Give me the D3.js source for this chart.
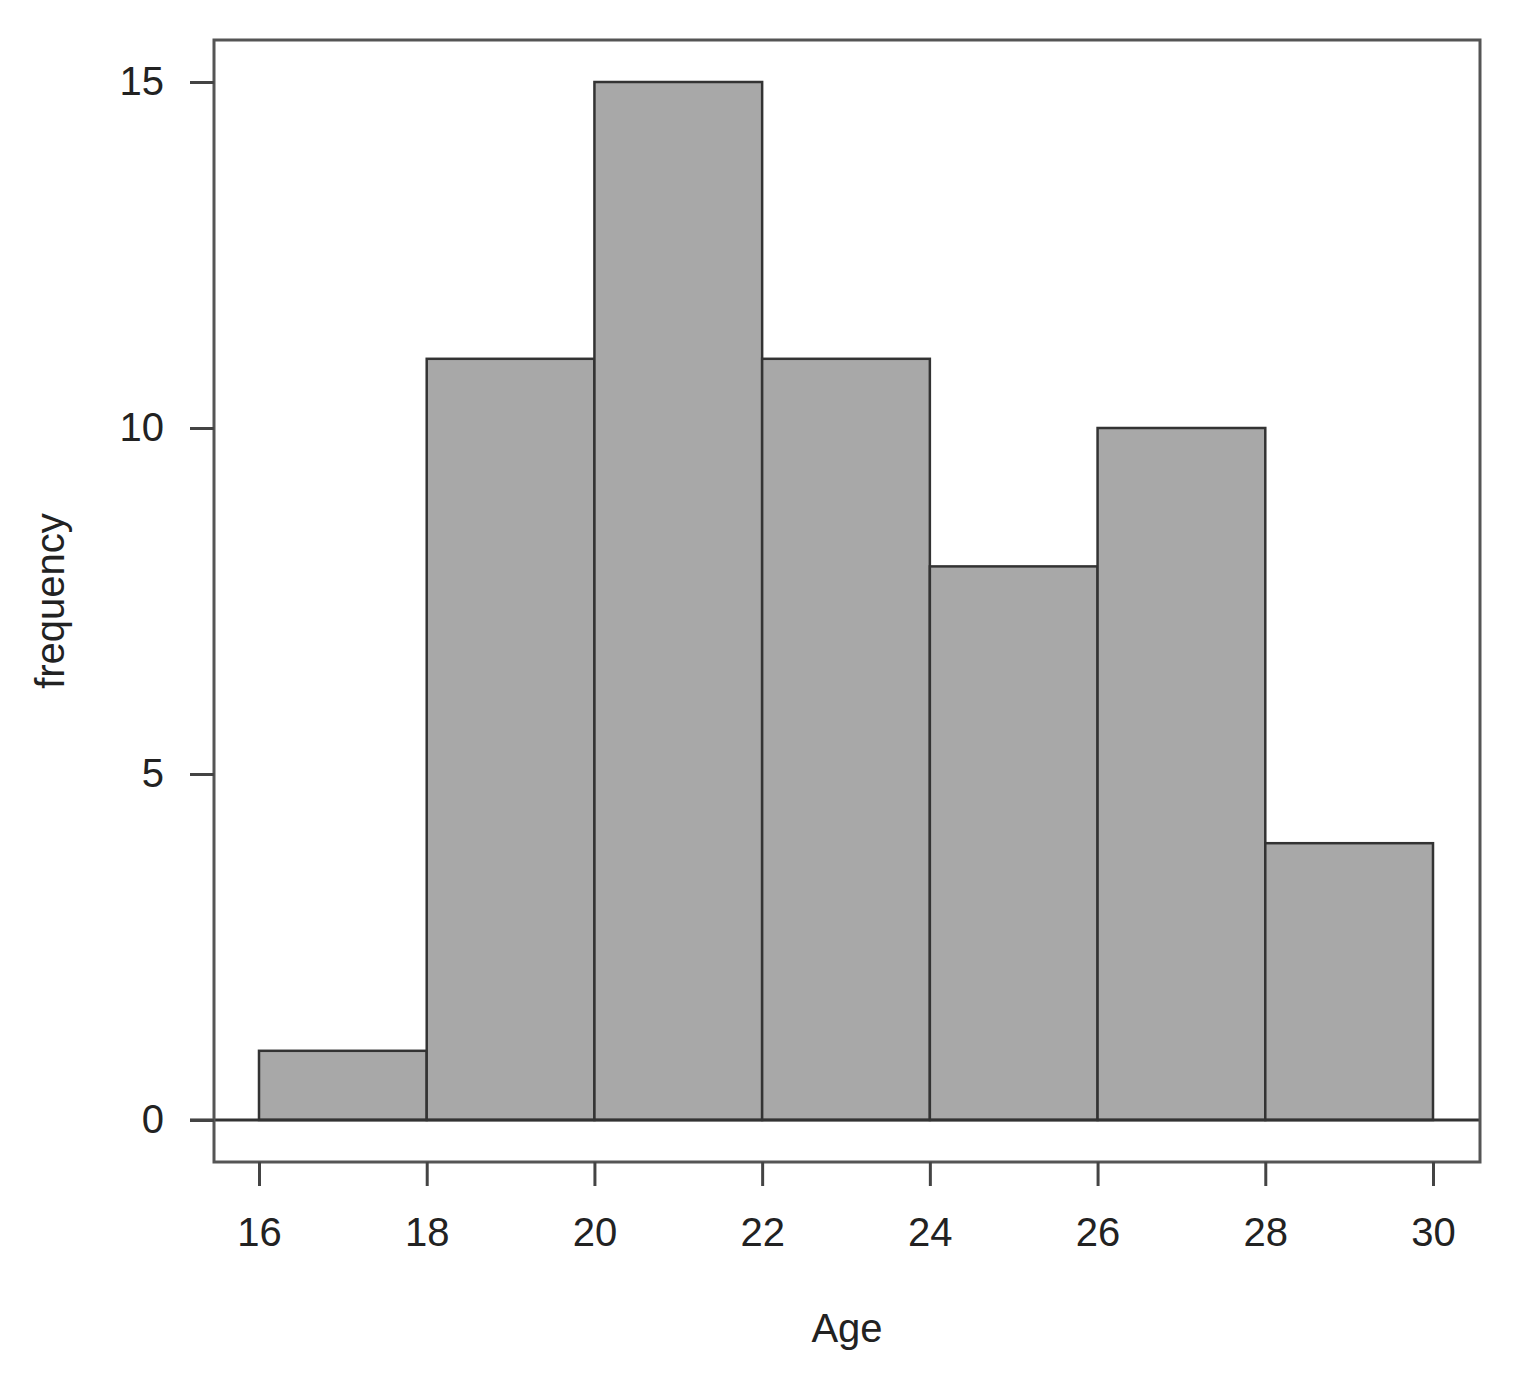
<!DOCTYPE html>
<html>
<head>
<meta charset="utf-8">
<script src="https://cdn.jsdelivr.net/npm/d3@7"></script>
<style>
  body { margin: 0; background: #fff; }
  text { font-family: "Liberation Sans", Arial, sans-serif; fill: #222; }
</style>
</head>
<body>
<div id="chart"></div>
<script>
// histogram bins (age) and counts
const binStarts = [16, 18, 20, 22, 24, 26, 28];
const binWidth = 2;
const counts = [1, 11, 15, 11, 8, 10, 4];
const xTicks = [16, 18, 20, 22, 24, 26, 28, 30];
const yTicks = [0, 5, 10, 15];

const W = 1525, H = 1380;
// plot box in page coordinates
const box = {left: 214, right: 1480, top: 40, bottom: 1162};

const svg = d3.select("#chart").append("svg")
  .attr("width", W)
  .attr("height", H);

const x = d3.scaleLinear()
  .domain([16, 30])
  .range([259, 1433]);

const y = d3.scaleLinear()
  .domain([0, 15])
  .range([1120, 82]);

// bars
svg.append("g")
  .selectAll("rect")
  .data(binStarts.map((s, i) => ({x0: s, x1: s + binWidth, n: counts[i]})))
  .join("rect")
    .attr("x", d => x(d.x0))
    .attr("y", d => y(d.n))
    .attr("width", d => x(d.x1) - x(d.x0))
    .attr("height", d => y(0) - y(d.n))
    .attr("fill", "#a8a8a8")
    .attr("stroke", "#333")
    .attr("stroke-width", 2.5);

// zero baseline, runs across the box
svg.append("line")
  .attr("x1", box.left - 24).attr("x2", box.right)
  .attr("y1", y(0)).attr("y2", y(0))
  .attr("stroke", "#333")
  .attr("stroke-width", 3);

// plot frame
svg.append("rect")
  .attr("x", box.left).attr("y", box.top)
  .attr("width", box.right - box.left)
  .attr("height", box.bottom - box.top)
  .attr("fill", "none")
  .attr("stroke", "#555")
  .attr("stroke-width", 3);

// x axis, R style: ticks hanging below the frame
const xAxis = svg.append("g")
  .attr("transform", "translate(0," + box.bottom + ")")
  .call(d3.axisBottom(x).tickValues(xTicks).tickSize(24).tickPadding(32).tickFormat(d3.format("d")));
xAxis.select(".domain").remove();
xAxis.selectAll(".tick line").attr("stroke", "#444").attr("stroke-width", 3);
xAxis.selectAll("text").attr("font-size", 40).attr("fill", "#222")
  .attr("font-family", "Liberation Sans, Arial, sans-serif");

// y axis
const yAxis = svg.append("g")
  .attr("transform", "translate(" + box.left + ",0)")
  .call(d3.axisLeft(y).tickValues(yTicks).tickSize(24).tickPadding(26).tickFormat(d3.format("d")));
yAxis.select(".domain").remove();
yAxis.selectAll(".tick line").attr("stroke", "#444").attr("stroke-width", 3);
yAxis.selectAll("text").attr("font-size", 40).attr("fill", "#222")
  .attr("font-family", "Liberation Sans, Arial, sans-serif");

// axis titles
svg.append("text")
  .attr("x", (box.left + box.right) / 2)
  .attr("y", 1342)
  .attr("text-anchor", "middle")
  .attr("font-size", 40)
  .text("Age");

svg.append("text")
  .attr("transform", "translate(64," + (box.top + box.bottom) / 2 + ") rotate(-90)")
  .attr("text-anchor", "middle")
  .attr("font-size", 40)
  .text("frequency");
</script>
</body>
</html>
